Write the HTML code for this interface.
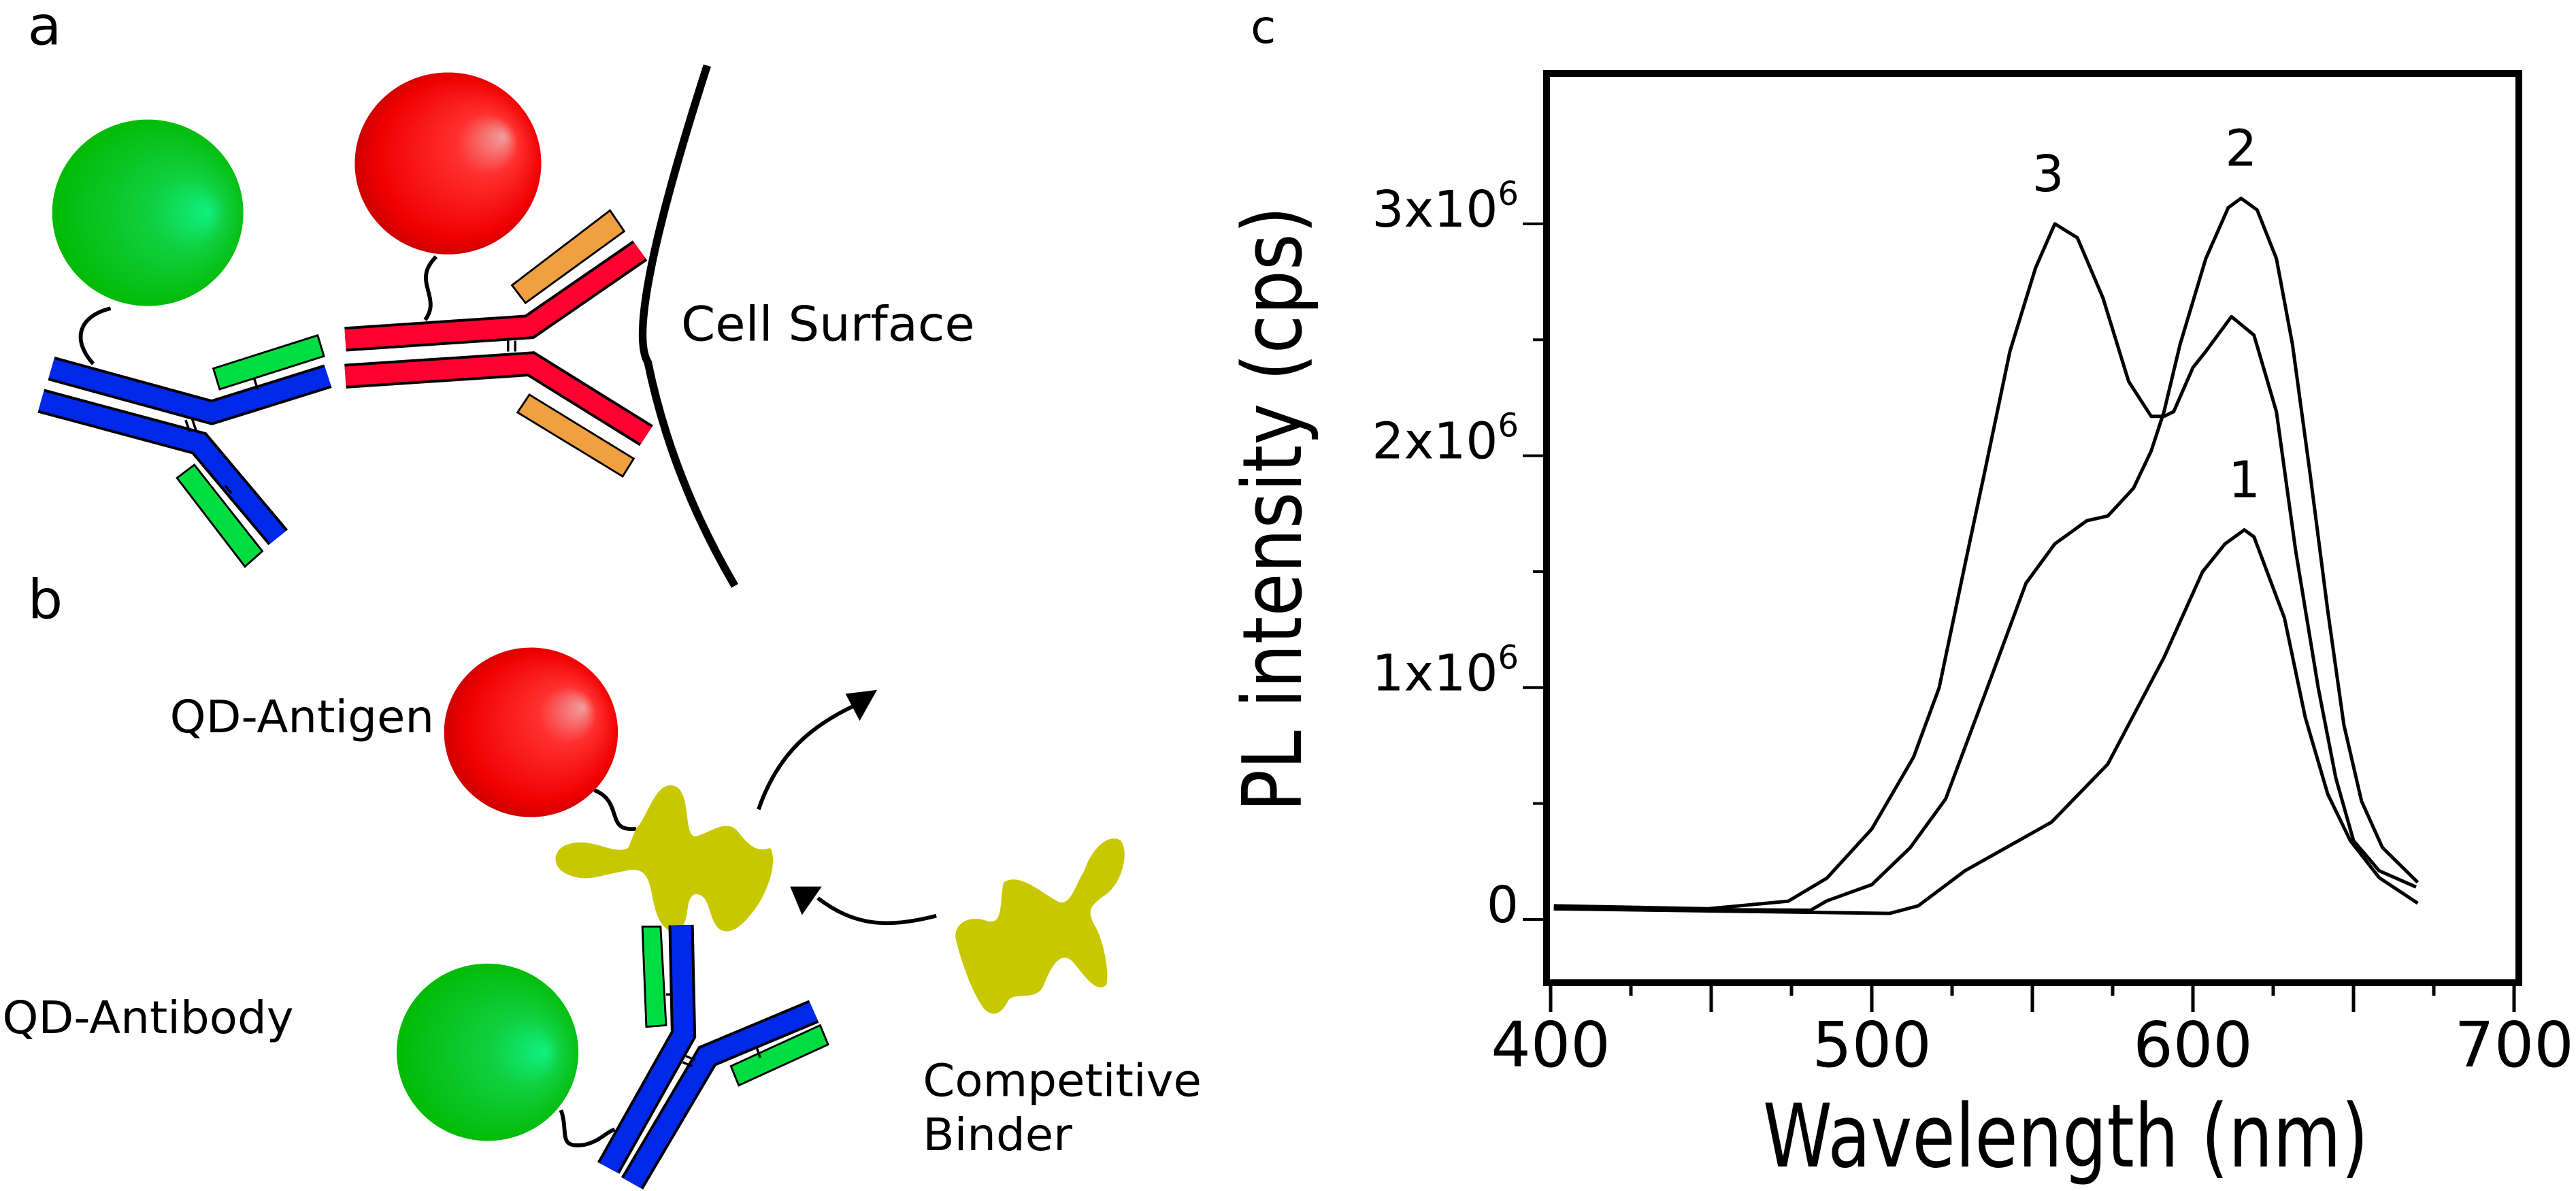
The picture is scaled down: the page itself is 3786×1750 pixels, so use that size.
<!DOCTYPE html>
<html><head><meta charset="utf-8"><style>
html,body{margin:0;padding:0;background:#fff;}
svg{display:block;}
text{font-family:"DejaVu Sans","Liberation Sans",sans-serif;fill:#000;}
</style></head><body>
<svg id="fig" width="3786" height="1750" viewBox="0 0 3786 1750" xmlns="http://www.w3.org/2000/svg">
<defs>
<radialGradient id="gG" cx="0.5" cy="0.5" r="0.55" fx="0.82" fy="0.5"><stop offset="0" stop-color="#10f080"/><stop offset="0.35" stop-color="#10d040"/><stop offset="1" stop-color="#00b800"/></radialGradient>
<radialGradient id="gR" cx="0.5" cy="0.5" r="0.55" fx="0.8" fy="0.35"><stop offset="0" stop-color="#f0a0a0"/><stop offset="0.3" stop-color="#ff3030"/><stop offset="0.8" stop-color="#f00000"/><stop offset="1" stop-color="#c00000"/></radialGradient>
</defs>
<g transform="scale(1.1613,1.1327)">
 <text x="35" y="58" font-size="70">a</text>
 <text x="35" y="802" font-size="70">b</text>
 <g><path d="M895 85 Q790 420 820 470 Q850 620 930 760" fill="none" stroke="#000" stroke-width="10"/></g>
 <text x="862" y="442" font-size="62">Cell Surface</text>
 <path d="M140 400 C100 410 90 440 118 472" fill="none" stroke="#000" stroke-width="5"/>
 <path d="M552 333 C520 365 560 385 538 415" fill="none" stroke="#000" stroke-width="5"/>
 <g stroke-linejoin="miter">
  <path d="M65 478 L268 535 L415 488" fill="none" stroke="#000" stroke-width="32"/>
  <path d="M65 478 L268 535 L415 488" fill="none" stroke="#0028e8" stroke-width="25"/>
  <path d="M52 520 L252 575 L352 697" fill="none" stroke="#000" stroke-width="32"/>
  <path d="M52 520 L252 575 L352 697" fill="none" stroke="#0028e8" stroke-width="25"/>
  <path d="M235 545 L240 560 M243 543 L248 558" stroke="#000" stroke-width="3"/>
 </g>
 <g fill="#00dd40" stroke="#000" stroke-width="2.5">
  <polygon points="270,478 402,435 410,462 278,505"/>
  <polygon points="224,620 246,603 332,715 310,735"/>
  <path d="M322 492 L326 505 M285 630 L293 640" stroke-width="3"/>
 </g>
 <g>
  <path d="M437 440 L670 424 L810 325" fill="none" stroke="#000" stroke-width="32"/>
  <path d="M437 440 L670 424 L810 325" fill="none" stroke="#ff0030" stroke-width="25"/>
  <path d="M437 488 L672 472 L818 565" fill="none" stroke="#000" stroke-width="32"/>
  <path d="M437 488 L672 472 L818 565" fill="none" stroke="#ff0030" stroke-width="25"/>
  <path d="M643 442 L643 456 M652 442 L652 456" stroke="#000" stroke-width="3"/>
 </g>
 <g fill="#f0a040" stroke="#000" stroke-width="2.5">
  <polygon points="648,370 772,273 790,300 665,393"/>
  <polygon points="655,535 670,512 802,595 788,618"/>
 </g>
 <circle cx="187" cy="276" r="121" fill="url(#gG)"/>
 <circle cx="567" cy="212" r="118" fill="url(#gR)"/>
 <text x="215" y="950" font-size="58">QD-Antigen</text>
 <text x="3" y="1340" font-size="58">QD-Antibody</text>
 <text x="1168" y="1422" font-size="58">Competitive</text>
 <text x="1168" y="1492" font-size="58">Binder</text>
 <path d="M752 1025 C790 1040 765 1080 805 1075" fill="none" stroke="#000" stroke-width="5"/>
 <circle cx="672" cy="950" r="110" fill="url(#gR)"/>
 <path fill="#c8c800" d="M805 1075 C820 1060 830 1010 855 1020 C875 1030 865 1085 880 1085 C900 1080 920 1060 935 1080 C950 1100 960 1105 975 1100 C985 1120 970 1160 955 1180 C940 1200 925 1215 910 1205 C895 1190 900 1160 880 1160 C865 1165 875 1195 860 1205 C840 1215 830 1190 825 1160 C820 1130 810 1125 790 1130 C760 1135 745 1145 720 1135 C695 1125 700 1100 720 1095 C750 1085 775 1110 795 1100 Z"/>
 <path fill="#c8c800" d="M1270 1145 C1290 1130 1320 1160 1340 1170 C1355 1175 1360 1150 1372 1130 C1380 1105 1400 1080 1418 1090 C1430 1105 1420 1145 1400 1160 C1380 1175 1375 1180 1385 1200 C1395 1215 1405 1260 1400 1278 C1385 1290 1370 1260 1355 1245 C1340 1235 1330 1255 1320 1280 C1310 1300 1280 1285 1275 1300 C1265 1320 1250 1320 1240 1300 C1225 1275 1215 1240 1210 1220 C1205 1200 1225 1185 1250 1195 C1270 1200 1265 1170 1270 1145 Z"/>
 <path d="M960 1050 C985 975 1030 940 1082 915" fill="none" stroke="#000" stroke-width="5"/>
 <polygon points="1110,895 1070,900 1088,935" fill="#000"/>
 <path d="M1185 1188 C1120 1205 1080 1200 1035 1165" fill="none" stroke="#000" stroke-width="5"/>
 <polygon points="1000,1150 1040,1150 1015,1187" fill="#000"/>
 <path d="M710 1440 C720 1470 705 1490 740 1485 C760 1480 765 1470 778 1465" fill="none" stroke="#000" stroke-width="5"/>
 <circle cx="617" cy="1365" r="115" fill="url(#gG)"/>
 <g>
  <path d="M862 1200 L865 1342 L770 1515" fill="none" stroke="#000" stroke-width="32"/>
  <path d="M862 1200 L865 1342 L770 1515" fill="none" stroke="#0028e8" stroke-width="25"/>
  <path d="M1030 1312 L895 1370 L800 1535" fill="none" stroke="#000" stroke-width="32"/>
  <path d="M1030 1312 L895 1370 L800 1535" fill="none" stroke="#0028e8" stroke-width="25"/>
  <path d="M868 1370 L880 1375 M864 1378 L876 1383" stroke="#000" stroke-width="3"/>
 </g>
 <g fill="#00dd40" stroke="#000" stroke-width="2.5">
  <polygon points="813,1202 836,1202 843,1330 818,1332"/>
  <polygon points="925,1383 1038,1330 1048,1355 935,1408"/>
  <path d="M843 1290 L850 1290 M958 1360 L962 1372" stroke-width="3"/>
 </g>
</g>

<g id="chart">
 <text x="1838" y="63" font-size="68">c</text>
 <rect x="2273" y="108" width="1429" height="1336" fill="none" stroke="#000" stroke-width="10"/>
 <g id="xticks"></g>
 <g id="yticks"></g>
 <g id="series"></g>
 <text x="3036" y="1714" font-size="128" text-anchor="middle" textLength="890" lengthAdjust="spacingAndGlyphs">Wavelength (nm)</text>
 <text transform="translate(1912,748) rotate(-90)" font-size="120" text-anchor="middle" textLength="890" lengthAdjust="spacingAndGlyphs">PL intensity (cps)</text>
</g>
</svg>
<script>
const xTickMajor = [400, 450, 500, 550, 600, 650, 700];
const xTickMinor = [425, 475, 525, 575, 625, 675];
const xTickLabels = ["400", "500", "600", "700"];
const xLabelValues = [400, 500, 600, 700];
const yTickValues = [0, 1, 2, 3];
const yTickLabels = ["0", "1x10", "2x10", "3x10"];
const yMinorValues = [0.5, 1.5, 2.5];
const wl1 = [401,505.6,514.5,529,556,573.5,591,603,610,616,619,628.5,635,642,649,658,670];
const pl1 = [0.046,0.026,0.059,0.21,0.42,0.67,1.13,1.50,1.62,1.68,1.65,1.30,0.87,0.54,0.34,0.18,0.07];
const wl2 = [401,481,486,500,512,523,536,548,557,567,573.5,581.5,587,591,596,604,611,615,620,626,631,636.5,642,647,652.5,659,670];
const pl2 = [0.046,0.04,0.08,0.15,0.31,0.52,1.0,1.45,1.62,1.72,1.74,1.86,2.02,2.19,2.48,2.85,3.07,3.11,3.06,2.85,2.48,1.92,1.33,0.84,0.51,0.31,0.16];
const wl3 = [401,449,474,486,500,513,521,529,535,543,551,557,564,572,580,587,591,594,600,604,612,619,626,632,639,644.5,650,658,669.5];
const pl3 = [0.059,0.046,0.079,0.178,0.39,0.70,1.0,1.53,1.92,2.45,2.81,3.0,2.94,2.68,2.32,2.17,2.17,2.19,2.38,2.45,2.60,2.52,2.19,1.59,1.0,0.61,0.34,0.21,0.14];
const seriesNames = ["1", "2", "3"];

const NS = "http://www.w3.org/2000/svg";
function xScale(nm){ return 2279 + (nm - 400) * 4.72; }
function yScale(v){ return 1351 - v * 340.7; }
function mk(tag, attrs, parent){ const e = document.createElementNS(NS, tag); for (const k in attrs) e.setAttribute(k, attrs[k]); parent.appendChild(e); return e; }

const xg = document.getElementById('xticks');
xTickMajor.forEach(v => {
  const l = mk('line', {x1: xScale(v), x2: xScale(v), y1: 1444, y2: 1487, stroke: '#000', 'stroke-width': 5}, xg);
  
  
});
xTickMinor.forEach(v => {
  const l = mk('line', {x1: xScale(v), x2: xScale(v), y1: 1444, y2: 1463, stroke: '#000', 'stroke-width': 5}, xg);
  
  
});
xLabelValues.forEach((v, i) => {
  const t = mk('text', {x: xScale(v), y: 1567, 'font-size': 92, 'text-anchor': 'middle'}, xg);
  t.textContent = xTickLabels[i];
  
  
});
const yg = document.getElementById('yticks');
yTickValues.forEach((v, i) => {
  const l = mk('line', {x1: 2238, x2: 2273, y1: yScale(v), y2: yScale(v), stroke: '#000', 'stroke-width': 4}, yg);
  
  
  const t = mk('text', {x: 2232, y: yScale(v) + 4, 'font-size': 74, 'text-anchor': 'end'}, yg);
  
  
  t.appendChild(document.createTextNode(yTickLabels[i]));
  if (v !== 0) {
    const s = mk('tspan', {'font-size': 48, dy: -32}, t);
    s.textContent = '6';
  }
});
yMinorValues.forEach(v => {
  const l = mk('line', {x1: 2253, x2: 2273, y1: yScale(v), y2: yScale(v), stroke: '#000', 'stroke-width': 4}, yg);
  
  
});

const sg = document.getElementById('series');
const allX = [wl1, wl2, wl3], allY = [pl1, pl2, pl3];
allX.forEach((xs, si) => {
  const ys = allY[si];
  const d = xs.map((x, i) => (i ? 'L' : 'M') + xScale(x).toFixed(1) + ' ' + yScale(ys[i]).toFixed(1)).join(' ');
  const p = mk('path', {d: d, fill: 'none', stroke: '#000', 'stroke-width': 5, 'stroke-linejoin': 'round'}, sg);
  
  
  let mi = 0; ys.forEach((v, i) => { if (v > ys[mi]) mi = i; });
  let lx = xScale(xs[mi]), ly = yScale(ys[mi]) - 48;
  if (si === 2) { lx = xScale(xs[mi]) - 10; }
  const t = mk('text', {x: lx, y: ly, 'font-size': 74, 'text-anchor': 'middle'}, sg);
  t.textContent = seriesNames[si];
  
  
});
</script>
</body></html>
